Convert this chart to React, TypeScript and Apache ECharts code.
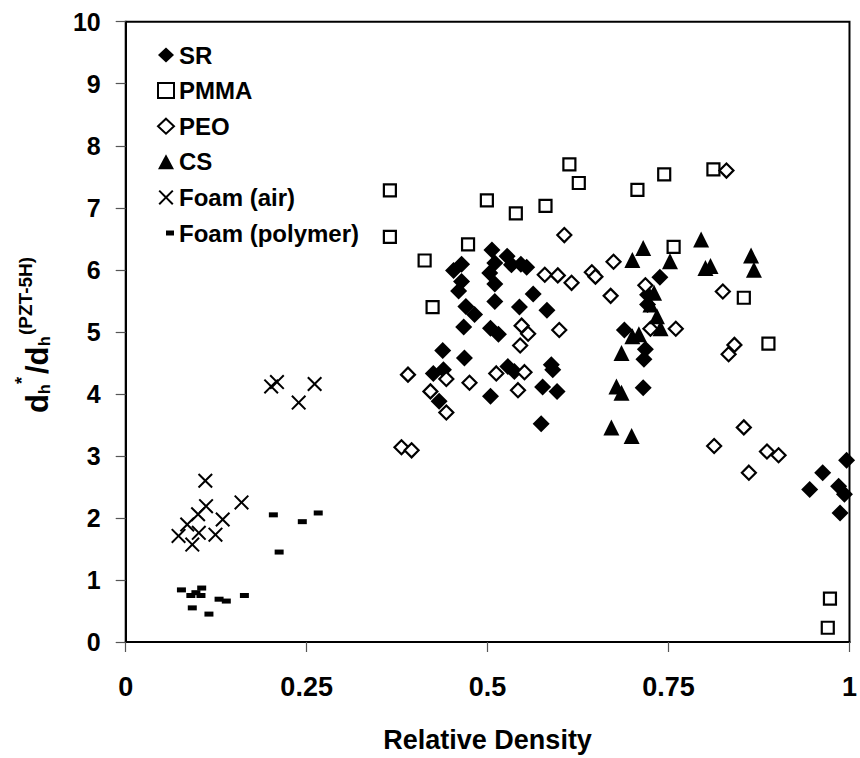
import React, { useEffect, useRef } from "react";
import * as echarts from "echarts";

const X_TICKS = [0, 0.25, 0.5, 0.75, 1];
const Y_MIN = 0;
const Y_MAX = 10;

const SR: [number, number][] = [
  [0.506, 6.32], [0.464, 6.09], [0.453, 5.99], [0.527, 6.22], [0.533, 6.08], [0.546, 6.09],
  [0.554, 6.04], [0.51, 6.11], [0.503, 5.95], [0.464, 5.81], [0.46, 5.66], [0.51, 5.77],
  [0.51, 5.49], [0.47, 5.41], [0.482, 5.28], [0.563, 5.61], [0.544, 5.4], [0.582, 5.35],
  [0.467, 5.08], [0.504, 5.06], [0.515, 4.96], [0.438, 4.7], [0.468, 4.58], [0.439, 4.39],
  [0.425, 4.33], [0.433, 3.88], [0.528, 4.44], [0.537, 4.36], [0.588, 4.47], [0.59, 4.39],
  [0.576, 4.11], [0.596, 4.04], [0.504, 3.96], [0.574, 3.52], [0.738, 5.88], [0.689, 5.03],
  [0.718, 4.72], [0.716, 4.56], [0.715, 4.1], [0.721, 5.44], [0.721, 5.6], [0.996, 2.93],
  [0.963, 2.73], [0.945, 2.46], [0.985, 2.51], [0.993, 2.38], [0.987, 2.08],
];

const PMMA: [number, number][] = [
  [0.365, 7.28], [0.365, 6.53], [0.413, 6.15], [0.424, 5.4], [0.473, 6.41], [0.499, 7.12],
  [0.539, 6.91], [0.58, 7.03], [0.613, 7.7], [0.626, 7.4], [0.707, 7.29], [0.744, 7.54],
  [0.812, 7.62], [0.757, 6.37], [0.854, 5.55], [0.888, 4.81], [0.973, 0.7], [0.97, 0.23],
];

const PEO: [number, number][] = [
  [0.83, 7.6], [0.606, 6.56], [0.674, 6.13], [0.579, 5.92], [0.597, 5.91], [0.616, 5.79],
  [0.644, 5.96], [0.649, 5.89], [0.67, 5.58], [0.718, 5.75], [0.825, 5.65], [0.39, 4.31],
  [0.421, 4.04], [0.443, 4.24], [0.443, 3.7], [0.381, 3.14], [0.395, 3.09], [0.475, 4.18],
  [0.512, 4.33], [0.542, 4.06], [0.551, 4.35], [0.547, 5.1], [0.556, 4.97], [0.545, 4.78],
  [0.599, 5.03], [0.76, 5.05], [0.725, 5.05], [0.841, 4.79], [0.833, 4.64], [0.854, 3.46],
  [0.813, 3.16], [0.886, 3.07], [0.902, 3.01], [0.861, 2.73],
];

const CS: [number, number][] = [
  [0.715, 6.35], [0.7, 6.16], [0.752, 6.14], [0.795, 6.49], [0.801, 6.03], [0.808, 6.06],
  [0.864, 6.23], [0.868, 6.0], [0.73, 5.63], [0.734, 5.25], [0.725, 5.44], [0.739, 5.06],
  [0.7, 4.93], [0.709, 4.96], [0.685, 4.66], [0.678, 4.12], [0.685, 4.02], [0.671, 3.46],
  [0.699, 3.32],
];

const FOAM_AIR: [number, number][] = [
  [0.201, 4.12], [0.209, 4.19], [0.261, 4.16], [0.239, 3.86], [0.11, 2.6], [0.111, 2.19],
  [0.16, 2.25], [0.1, 2.06], [0.134, 1.975], [0.085, 1.895], [0.101, 1.76], [0.073, 1.71],
  [0.124, 1.73], [0.092, 1.57],
];

const FOAM_POLY: [number, number][] = [
  [0.204, 2.05], [0.244, 1.94], [0.266, 2.08], [0.212, 1.45], [0.077, 0.84], [0.09, 0.75],
  [0.097, 0.795], [0.105, 0.87], [0.104, 0.75], [0.129, 0.69], [0.139, 0.66], [0.164, 0.75],
  [0.092, 0.55], [0.115, 0.45],
];

const FONT = '"Liberation Sans", Arial, sans-serif';

const CROSS_PATH =
  "path://M0,0.95L0.95,0L5,4.05L9.05,0L10,0.95L5.95,5L10,9.05L9.05,10L5,5.95L0.95,10L0,9.05L4.05,5Z";
const DASH_LEGEND = "path://M0,0M16,15M8,5L16,5L16,10L8,10Z";

export default function App() {
  const ref = useRef<HTMLDivElement>(null);

  useEffect(() => {
    if (!ref.current) return;
    const chart = echarts.init(ref.current, undefined, { renderer: "svg" });
    const hollow = { color: "#fff", borderColor: "#000", borderWidth: 2.2, opacity: 1 };
    const solid = { color: "#000", opacity: 1 };

    const F = 31;
    const S = 16;
    const P = 19;
    const tx = (text: string, x: number, y: number, size: number) => ({
      type: "text",
      x,
      y,
      style: {
        text,
        font: `bold ${size}px ${FONT}`,
        fill: "#000",
        textAlign: "left",
        align: "left",
        textVerticalAlign: "middle",
        verticalAlign: "middle",
      },
    });

    chart.setOption({
      animation: false,
      backgroundColor: "#fff",
      grid: {
        left: 125.7,
        top: 21.7,
        width: 727.6,
        height: 621,
        show: true,
        borderColor: "#000",
        borderWidth: 2,
      },
      legend: {
        orient: "vertical",
        left: 157,
        top: 43,
        padding: 0,
        itemWidth: 16,
        itemHeight: 15,
        itemGap: 11.6,
        selectedMode: false,
        textStyle: { fontFamily: FONT, fontWeight: "bold", fontSize: 24, color: "#000" },
        data: [
          { name: "SR" },
          { name: "PMMA" },
          { name: "PEO" },
          { name: "CS" },
          { name: "Foam (air)" },
          { name: "Foam (polymer)", icon: DASH_LEGEND },
        ],
      },
      xAxis: {
        type: "value",
        min: X_TICKS[0],
        max: X_TICKS[X_TICKS.length - 1],
        interval: 0.25,
        name: "Relative Density",
        nameLocation: "middle",
        nameGap: 84,
        nameTextStyle: { fontFamily: FONT, fontWeight: "bold", fontSize: 27, color: "#000" },
        axisLine: { show: true, lineStyle: { color: "#000", width: 2 } },
        axisTick: { show: true, length: 10, lineStyle: { color: "#555", width: 1.2 } },
        axisLabel: {
          margin: 31,
          fontFamily: FONT,
          fontWeight: "bold",
          fontSize: 27,
          color: "#000",
        },
        splitLine: { show: false },
      },
      yAxis: {
        type: "value",
        min: Y_MIN,
        max: Y_MAX,
        interval: 1,
        axisLine: { show: true, lineStyle: { color: "#000", width: 2 } },
        axisTick: { show: true, length: 10, lineStyle: { color: "#555", width: 1.2 } },
        axisLabel: {
          margin: 25,
          fontFamily: FONT,
          fontWeight: "bold",
          fontSize: 25,
          color: "#000",
        },
        splitLine: { show: false },
      },
      graphic: [
        {
          type: "group",
          x: 48,
          y: 413,
          rotation: Math.PI / 2,
          children: [
            tx("d", 0, -0.35 * F, F),
            tx("h", 19, 2 - 0.35 * S, S),
            tx("*", 29, -26, 18),
            tx("/d", 39, -0.35 * F, F),
            tx("h", 67, 2 - 0.35 * S, S),
            tx("(PZT-5H)", 78, -16 - 0.35 * P, P),
          ],
        },
      ],
      series: [
        { name: "SR", type: "scatter", symbol: "diamond", symbolSize: 17, itemStyle: solid, data: SR },
        { name: "PMMA", type: "scatter", symbol: "rect", symbolSize: 12, itemStyle: hollow, data: PMMA },
        { name: "PEO", type: "scatter", symbol: "diamond", symbolSize: 14, itemStyle: hollow, data: PEO },
        { name: "CS", type: "scatter", symbol: "triangle", symbolSize: 16, itemStyle: solid, data: CS },
        { name: "Foam (air)", type: "scatter", symbol: CROSS_PATH, symbolSize: 15, itemStyle: solid, data: FOAM_AIR },
        { name: "Foam (polymer)", type: "scatter", symbol: "rect", symbolSize: [9, 5], itemStyle: solid, data: FOAM_POLY },
      ],
    });
    return () => chart.dispose();
  }, []);

  return (
    <div
      ref={ref}
      style={{ position: "absolute", left: 0, top: 0, width: 860, height: 758, background: "#fff" }}
    />
  );
}
